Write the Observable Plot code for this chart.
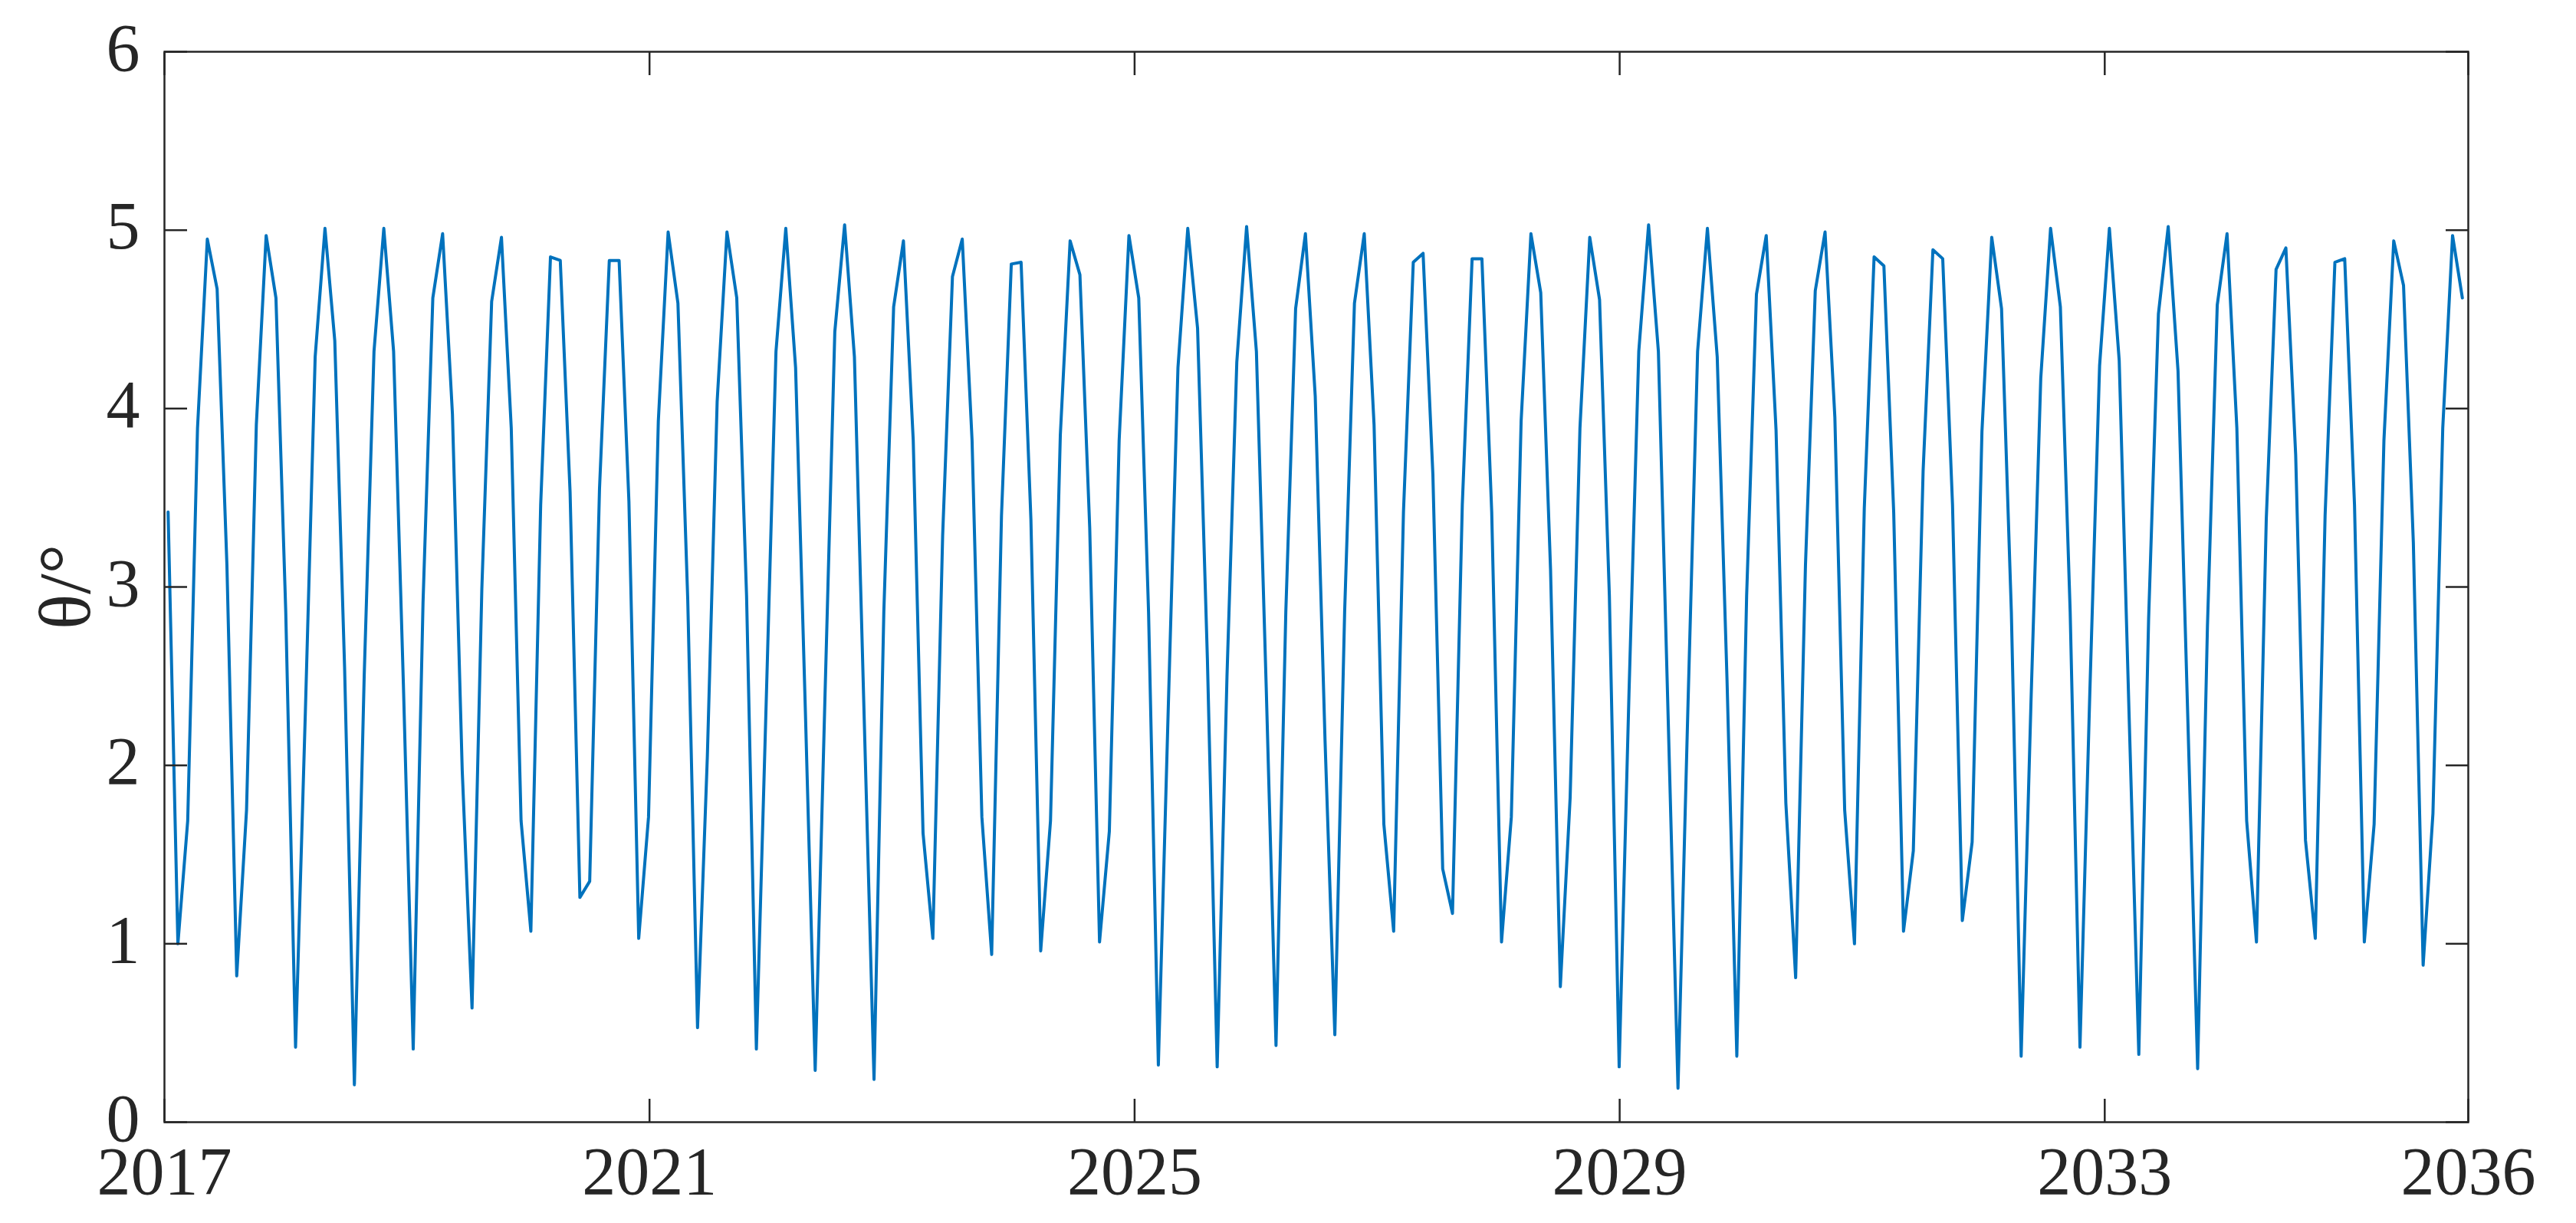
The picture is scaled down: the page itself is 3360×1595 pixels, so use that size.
<!DOCTYPE html>
<html>
<head>
<meta charset="utf-8">
<script src="https://cdn.jsdelivr.net/npm/d3@7"></script>
<script src="https://cdn.jsdelivr.net/npm/@observablehq/plot@0.6"></script>
<style>
  html, body { margin: 0; padding: 0; background: #ffffff; }
  #chart { width: 3360px; height: 1595px; }
</style>
</head>
<body>
<div id="chart"></div>
<script>
// Sampling: one value per lunation (full moon), starting 2017-01-12
const firstSampleDate = "2017-01-12";
const sampleStepDays = 29.5306;

// θ (degrees), one value per sample
const theta = [
  3.42, 1.00, 1.69, 3.89, 4.95, 4.67, 3.12, 0.82, 1.75, 3.91,
  4.97, 4.62, 2.86, 0.42, 2.30, 4.29, 5.01, 4.38, 2.55, 0.21,
  2.50, 4.32, 5.01, 4.32, 2.45, 0.41, 2.91, 4.62, 4.98, 3.97,
  1.97, 0.64, 2.99, 4.60, 4.96, 3.89, 1.69, 1.07, 3.46, 4.85,
  4.83, 3.53, 1.26, 1.35, 3.55, 4.83, 4.83, 3.48, 1.03, 1.71,
  3.93, 4.99, 4.59, 2.93, 0.53, 2.05, 4.04, 4.99, 4.62, 2.95,
  0.41, 2.35, 4.32, 5.01, 4.23, 2.30, 0.29, 2.39, 4.43, 5.03,
  4.29, 2.26, 0.24, 2.86, 4.57, 4.94, 3.82, 1.62, 1.03, 3.29,
  4.74, 4.95, 3.82, 1.71, 0.94, 3.40, 4.81, 4.82, 3.38, 0.96,
  1.69, 3.85, 4.94, 4.75, 3.33, 1.01, 1.63, 3.82, 4.97, 4.62,
  2.86, 0.32, 2.30, 4.23, 5.01, 4.45, 2.60, 0.31, 2.50, 4.26,
  5.02, 4.32, 2.44, 0.43, 2.86, 4.56, 4.98, 4.07, 2.14, 0.49,
  2.86, 4.59, 4.98, 3.91, 1.67, 1.07, 3.42, 4.82, 4.87, 3.63,
  1.42, 1.17, 3.46, 4.84, 4.84, 3.42, 1.01, 1.71, 3.93, 4.98,
  4.65, 3.10, 0.76, 1.82, 3.89, 4.96, 4.61, 2.95, 0.31, 2.40,
  4.32, 5.03, 4.32, 2.26, 0.19, 2.30, 4.32, 5.01, 4.29, 2.48,
  0.37, 2.95, 4.64, 4.97, 3.88, 1.79, 0.81, 3.12, 4.66, 4.99,
  3.95, 1.75, 1.00, 3.44, 4.85, 4.80, 3.42, 1.07, 1.52, 3.65,
  4.89, 4.84, 3.46, 1.13, 1.57, 3.87, 4.96, 4.56, 2.86, 0.37,
  2.35, 4.17, 5.01, 4.57, 2.86, 0.42, 2.40, 4.24, 5.01, 4.27,
  2.30, 0.38, 2.82, 4.53, 5.02, 4.21, 2.26, 0.30, 2.78, 4.58,
  4.98, 3.89, 1.69, 1.01, 3.38, 4.78, 4.90, 3.74, 1.58, 1.03,
  3.40, 4.82, 4.84, 3.46, 1.01, 1.67, 3.82, 4.94, 4.69, 3.25,
  0.88, 1.73, 3.89, 4.97, 4.62
];

const xTickYears = [2017, 2021, 2025, 2029, 2033, 2036];
const yTicks = [0, 1, 2, 3, 4, 5, 6];
const xDomainYears = [2017, 2036];
const yDomain = [0, 6];
const yLabel = "θ/°";

// build table
const t0 = new Date(firstSampleDate + "T00:00:00Z").getTime();
const data = theta.map((v, i) => ({
  date: new Date(t0 + i * sampleStepDays * 86400000),
  theta: v
}));
const yearDate = (y) => new Date(Date.UTC(y, 0, 1));
const xTicks = xTickYears.map(yearDate);

const ink = "#262626";
const fmtYear = d3.utcFormat("%Y");
const fmtInt = d3.format("d");

const chart = Plot.plot({
  width: 3360,
  height: 1595,
  marginLeft: 214,
  marginRight: 141,
  marginTop: 67,
  marginBottom: 132,
  style: {
    fontFamily: "'Liberation Serif', 'Times New Roman', serif",
    fontSize: "88px",
    color: ink,
    background: "#ffffff"
  },
  x: { type: "utc", domain: xDomainYears.map(yearDate) },
  y: { domain: yDomain },
  marks: [
    Plot.line(data, { x: "date", y: "theta", stroke: "#0072BD", strokeWidth: 4 }),
    Plot.frame({ stroke: ink, strokeWidth: 2.5 }),
    // inward tick marks on all four sides
    Plot.axisY(yTicks, { anchor: "left", tickSize: -30, fill: "none", stroke: ink, strokeWidth: 2.5, label: null }),
    Plot.axisY(yTicks, { anchor: "right", tickSize: -30, fill: "none", stroke: ink, strokeWidth: 2.5, label: null }),
    Plot.axisX(xTicks, { anchor: "bottom", tickSize: -30, fill: "none", stroke: ink, strokeWidth: 2.5, label: null }),
    Plot.axisX(xTicks, { anchor: "top", tickSize: -30, fill: "none", stroke: ink, strokeWidth: 2.5, label: null }),
    // tick labels
    Plot.axisY(yTicks, { anchor: "left", tickSize: 0, tickPadding: 32, dy: -4, fill: ink, tickFormat: fmtInt, label: null }),
    Plot.axisX(xTicks, { anchor: "bottom", tickSize: 0, tickPadding: 31, fill: ink, tickFormat: fmtYear, label: null }),
    // y-axis title
    Plot.text([yLabel], { frameAnchor: "left", dx: -128, rotate: -90, fill: ink, fontSize: 96, textAnchor: "middle", lineAnchor: "middle" })
  ]
});

document.getElementById("chart").appendChild(chart);
</script>
</body>
</html>
